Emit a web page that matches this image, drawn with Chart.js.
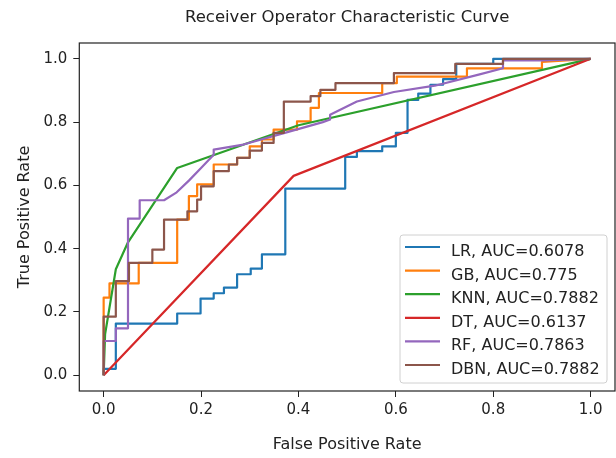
<!DOCTYPE html>
<html>
<head>
<meta charset="utf-8">
<title>Receiver Operator Characteristic Curve</title>
<script src="https://cdn.jsdelivr.net/npm/chart.js@4.4.1/dist/chart.umd.min.js"></script>
<style>
    html, body { margin: 0; padding: 0; background: #fff; }
    #rocChart { display: block; }
</style>
</head>
<body>
<canvas id="rocChart" width="616" height="458"></canvas>
<script>
// models, their AUC labels and colours (matplotlib tab10)
var models = ['LR', 'GB', 'KNN', 'DT', 'RF', 'DBN'];
var aucs = ['0.6078', '0.775', '0.7882', '0.6137', '0.7863', '0.7882'];
var colors = ['#1f77b4', '#ff7f0e', '#2ca02c', '#d62728', '#9467bd', '#8c564b'];
var axisTicks = [0, 0.2, 0.4, 0.6, 0.8, 1.0];

// ROC points (false positive rate / true positive rate)
var lrFpr = [0, 0, 0.025, 0.025, 0.151, 0.151, 0.199, 0.199, 0.226, 0.226, 0.247, 0.247, 0.274, 0.274, 0.302, 0.302, 0.325, 0.325, 0.373, 0.373, 0.496, 0.496, 0.52, 0.52, 0.572, 0.572, 0.6, 0.6, 0.624, 0.624, 0.646, 0.646, 0.671, 0.671, 0.697, 0.697, 0.724, 0.724, 0.8, 0.8, 1.0];
var lrTpr = [0, 0.02, 0.02, 0.163, 0.163, 0.195, 0.195, 0.242, 0.242, 0.259, 0.259, 0.277, 0.277, 0.319, 0.319, 0.337, 0.337, 0.382, 0.382, 0.59, 0.59, 0.69, 0.69, 0.708, 0.708, 0.723, 0.723, 0.766, 0.766, 0.87, 0.87, 0.89, 0.89, 0.918, 0.918, 0.936, 0.936, 0.984, 0.984, 1.0, 1.0];

var gbFpr = [0, 0, 0.012, 0.012, 0.072, 0.072, 0.151, 0.151, 0.175, 0.175, 0.192, 0.192, 0.226, 0.226, 0.274, 0.274, 0.3, 0.3, 0.325, 0.325, 0.349, 0.349, 0.397, 0.397, 0.425, 0.425, 0.442, 0.442, 0.572, 0.572, 0.602, 0.602, 0.746, 0.746, 0.9, 0.9, 1.0];
var gbTpr = [0, 0.245, 0.245, 0.29, 0.29, 0.355, 0.355, 0.492, 0.492, 0.566, 0.566, 0.603, 0.603, 0.666, 0.666, 0.687, 0.687, 0.723, 0.723, 0.745, 0.745, 0.776, 0.776, 0.802, 0.802, 0.845, 0.845, 0.892, 0.892, 0.923, 0.923, 0.944, 0.944, 0.97, 0.97, 0.99, 1.0];

var knnFpr = [0, 0.003, 0.025, 0.05, 0.151, 0.4, 1.0];
var knnTpr = [0, 0.13, 0.335, 0.42, 0.655, 0.79, 1.0];

var dtFpr = [0, 0.39, 1.0];
var dtTpr = [0, 0.63, 1.0];

var rfFpr = [0, 0, 0.025, 0.025, 0.05, 0.05, 0.074, 0.074, 0.124, 0.15, 0.175, 0.2, 0.226, 0.226, 0.287, 0.37, 0.45, 0.465, 0.465, 0.52, 0.596, 0.68, 0.77, 0.82, 0.82, 0.9, 1.0];
var rfTpr = [0, 0.108, 0.108, 0.148, 0.148, 0.495, 0.495, 0.553, 0.553, 0.578, 0.615, 0.655, 0.697, 0.713, 0.729, 0.765, 0.8, 0.808, 0.823, 0.865, 0.895, 0.915, 0.95, 0.97, 0.995, 0.995, 1.0];

var dbnFpr = [0, 0, 0.025, 0.025, 0.052, 0.052, 0.1, 0.1, 0.124, 0.124, 0.172, 0.172, 0.192, 0.192, 0.2, 0.2, 0.226, 0.226, 0.257, 0.257, 0.274, 0.274, 0.3, 0.3, 0.325, 0.325, 0.349, 0.349, 0.37, 0.37, 0.425, 0.425, 0.445, 0.445, 0.476, 0.476, 0.596, 0.596, 0.722, 0.722, 0.82, 0.82, 1.0];
var dbnTpr = [0, 0.185, 0.185, 0.297, 0.297, 0.355, 0.355, 0.397, 0.397, 0.492, 0.492, 0.518, 0.518, 0.555, 0.555, 0.597, 0.597, 0.645, 0.645, 0.666, 0.666, 0.687, 0.687, 0.71, 0.71, 0.734, 0.734, 0.766, 0.766, 0.865, 0.865, 0.882, 0.882, 0.902, 0.902, 0.923, 0.923, 0.955, 0.955, 0.984, 0.984, 1.0, 1.0];

var fprs = [lrFpr, gbFpr, knnFpr, dtFpr, rfFpr, dbnFpr];
var tprs = [lrTpr, gbTpr, knnTpr, dtTpr, rfTpr, dbnTpr];

var FONT = "'DejaVu Sans', sans-serif";
var TEXT = '#222';

function toPoints(xs, ys) {
    var pts = [];
    for (var i = 0; i < Math.min(xs.length, ys.length); i++) {
        pts.push({ x: xs[i], y: ys[i] });
    }
    return pts;
}

var datasets = models.map(function (m, i) {
    return {
        label: m + ', AUC=' + aucs[i],
        data: toPoints(fprs[i], tprs[i]),
        borderColor: colors[i],
        backgroundColor: colors[i],
        borderWidth: 2.2,
        pointRadius: 0,
        tension: 0,
        fill: false,
        borderJoinStyle: 'round',
        order: models.length - i // later models drawn on top
    };
});

// box round the plot and the legend in the lower right corner
var frameAndLegend = {
    id: 'frameAndLegend',
    afterDatasetsDraw: function (chart) {
        var ctx = chart.ctx;
        var a = chart.chartArea;
        ctx.save();
        ctx.strokeStyle = '#222';
        ctx.lineWidth = 1.2;
        ctx.strokeRect(a.left, a.top, a.right - a.left, a.bottom - a.top);

        var w = 207, h = 148;
        var bx = a.right - 8 - w, by = a.bottom - 8 - h;
        ctx.beginPath();
        ctx.roundRect(bx, by, w, h, 3);
        ctx.fillStyle = 'rgba(255,255,255,0.8)';
        ctx.fill();
        ctx.strokeStyle = '#d0d0d0';
        ctx.lineWidth = 1;
        ctx.stroke();

        ctx.font = '16px ' + FONT;
        ctx.textAlign = 'left';
        ctx.textBaseline = 'alphabetic';
        for (var i = 0; i < models.length; i++) {
            var ly = by + 12 + i * 23.6;
            ctx.beginPath();
            ctx.moveTo(bx + 5, ly);
            ctx.lineTo(bx + 40, ly);
            ctx.strokeStyle = colors[i];
            ctx.lineWidth = 2.2;
            ctx.stroke();
            ctx.fillStyle = TEXT;
            ctx.fillText(datasets[i].label, bx + 51, ly + 9);
        }
        ctx.restore();
    }
};

function setTicks(scale) {
    scale.ticks = axisTicks.map(function (v) { return { value: v }; });
}

var ctx = document.getElementById('rocChart').getContext('2d');
var rocChart = new Chart(ctx, {
    type: 'line',
    data: { datasets: datasets },
    options: {
        responsive: false,
        animation: false,
        devicePixelRatio: 1,
        layout: { padding: { left: 0, right: 1, top: 0, bottom: 0 } },
        plugins: {
            legend: { display: false },
            tooltip: { enabled: false },
            title: {
                display: true,
                fullSize: false,
                text: 'Receiver Operator Characteristic Curve',
                color: TEXT,
                font: { family: FONT, size: 16.5, weight: 'normal', lineHeight: 1.2 },
                padding: { top: 8.1, bottom: 15.1 }
            }
        },
        scales: {
            x: {
                type: 'linear',
                min: -0.05,
                max: 1.05,
                afterBuildTicks: setTicks,
                afterFit: function (scale) { scale.height = 67; },
                border: { display: false },
                grid: { drawOnChartArea: false, drawTicks: true, tickLength: 6, tickColor: '#222', tickWidth: 1 },
                ticks: {
                    color: TEXT,
                    padding: 4,
                    maxRotation: 0,
                    font: { family: FONT, size: 15 },
                    callback: function (v) { return Number(v).toFixed(1); }
                },
                title: {
                    display: true,
                    text: 'False Positive Rate',
                    color: TEXT,
                    font: { family: FONT, size: 16, lineHeight: 1.2 },
                    padding: { top: 0, bottom: 3.2 }
                }
            },
            y: {
                type: 'linear',
                min: -0.05,
                max: 1.05,
                afterBuildTicks: setTicks,
                afterFit: function (scale) { scale.width = 79.3; },
                border: { display: false },
                grid: { drawOnChartArea: false, drawTicks: true, tickLength: 6, tickColor: '#222', tickWidth: 1 },
                ticks: {
                    color: TEXT,
                    padding: 6,
                    font: { family: FONT, size: 15 },
                    callback: function (v) { return Number(v).toFixed(1); }
                },
                title: {
                    display: true,
                    text: 'True Positive Rate',
                    color: TEXT,
                    font: { family: FONT, size: 16, lineHeight: 1.2 },
                    padding: { top: 15.4, bottom: 0 }
                }
            }
        }
    },
    plugins: [frameAndLegend]
});
</script>
</body>
</html>
